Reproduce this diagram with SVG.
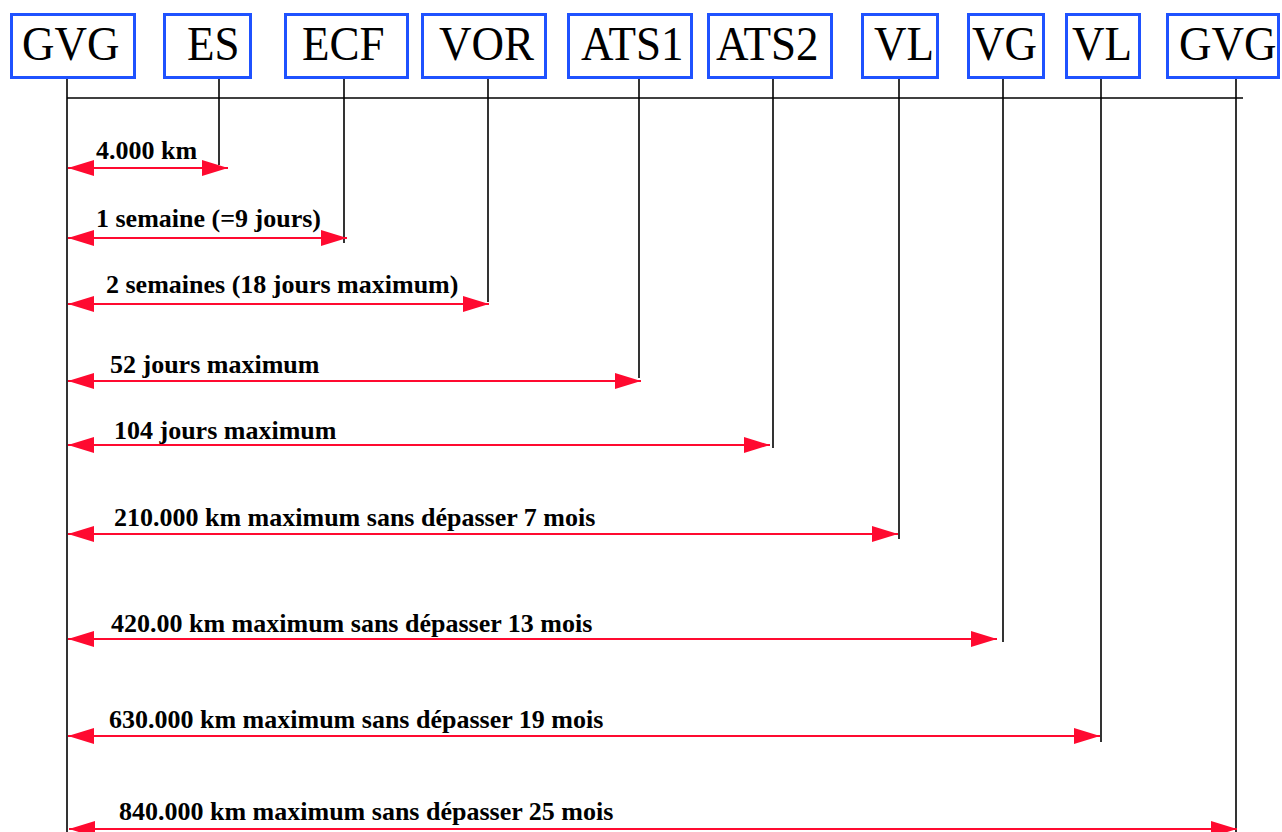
<svg xmlns="http://www.w3.org/2000/svg" width="1282" height="832" viewBox="0 0 1282 832">
<style>
.box{fill:#fff;stroke:#1f52ff;stroke-width:3}
.name{font-family:"Liberation Serif","Times New Roman",serif;font-size:45px;fill:#000}
.life{stroke:#000;stroke-width:1.6;fill:none}
.arr{stroke:#ff0a30;stroke-width:2;fill:none;marker-start:url(#ah);marker-end:url(#ah)}
.lbl{font-family:"Liberation Serif","Times New Roman",serif;font-size:26px;font-weight:bold;fill:#000}
</style>
<defs>
<marker id="ah" viewBox="0 0 26 16" refX="26" refY="8" markerWidth="26" markerHeight="16" markerUnits="userSpaceOnUse" orient="auto-start-reverse">
<path d="M0,0 L26,8 L0,16 z" fill="#ff0a30"/>
</marker>
</defs>
<rect width="1282" height="832" fill="#fff"/>
<g id="bus"><line class="life" x1="67" y1="98" x2="1243" y2="98"/></g>
<g id="n-gvg1"><line class="life" x1="67" y1="79" x2="67" y2="832"/><rect class="box" x="11.5" y="14.5" width="123" height="63"/><text class="name" transform="translate(22,60) scale(1,1.08)">GVG</text></g>
<g id="n-es"><line class="life" x1="219" y1="79" x2="219" y2="165"/><rect class="box" x="164.5" y="14.5" width="86" height="63"/><text class="name" transform="translate(187,60) scale(1,1.08)">ES</text></g>
<g id="n-ecf"><line class="life" x1="344" y1="79" x2="344" y2="243"/><rect class="box" x="285.5" y="14.5" width="122" height="63"/><text class="name" transform="translate(302,60) scale(1,1.08)">ECF</text></g>
<g id="n-vor"><line class="life" x1="488" y1="79" x2="488" y2="302"/><rect class="box" x="422.5" y="14.5" width="123" height="63"/><text class="name" transform="translate(439,60) scale(1,1.08)">VOR</text></g>
<g id="n-ats1"><line class="life" x1="639" y1="79" x2="639" y2="378"/><rect class="box" x="568.5" y="14.5" width="123" height="63"/><text class="name" transform="translate(581,60) scale(1,1.08)">ATS1</text></g>
<g id="n-ats2"><line class="life" x1="773" y1="79" x2="773" y2="448"/><rect class="box" x="708.5" y="14.5" width="123" height="63"/><text class="name" transform="translate(716,60) scale(1,1.08)">ATS2</text></g>
<g id="n-vl1"><line class="life" x1="899" y1="79" x2="899" y2="539"/><rect class="box" x="862.5" y="14.5" width="75" height="63"/><text class="name" transform="translate(874,60) scale(1,1.08)">VL</text></g>
<g id="n-vg"><line class="life" x1="1003" y1="79" x2="1003" y2="642"/><rect class="box" x="968.5" y="14.5" width="75" height="63"/><text class="name" transform="translate(972,60) scale(1,1.08)">VG</text></g>
<g id="n-vl2"><line class="life" x1="1101" y1="79" x2="1101" y2="742"/><rect class="box" x="1066.5" y="14.5" width="73" height="63"/><text class="name" transform="translate(1072,60) scale(1,1.08)">VL</text></g>
<g id="n-gvg2"><line class="life" x1="1236" y1="79" x2="1236" y2="832"/><rect class="box" x="1167.5" y="14.5" width="111" height="63"/><text class="name" transform="translate(1179,60) scale(1,1.08)">GVG</text></g>
<g id="connectors">
<line class="arr" x1="68" y1="168" x2="228" y2="168"/>
<line class="arr" x1="68" y1="238" x2="347" y2="238"/>
<line class="arr" x1="68" y1="304" x2="489" y2="304"/>
<line class="arr" x1="68" y1="381" x2="641" y2="381"/>
<line class="arr" x1="68" y1="445" x2="770" y2="445"/>
<line class="arr" x1="68" y1="534" x2="898" y2="534"/>
<line class="arr" x1="68" y1="639" x2="997" y2="639"/>
<line class="arr" x1="68" y1="736" x2="1100" y2="736"/>
<line class="arr" x1="69" y1="829" x2="1237" y2="829"/>
<text class="lbl" x="96" y="159">4.000 km</text>
<text class="lbl" x="96" y="227">1 semaine (=9 jours)</text>
<text class="lbl" x="106" y="293">2 semaines (18 jours maximum)</text>
<text class="lbl" x="110" y="373">52 jours maximum</text>
<text class="lbl" x="114" y="439">104 jours maximum</text>
<text class="lbl" x="114" y="526">210.000 km maximum sans dépasser 7 mois</text>
<text class="lbl" x="111" y="632">420.00 km maximum sans dépasser 13 mois</text>
<text class="lbl" x="109" y="728">630.000 km maximum sans dépasser 19 mois</text>
<text class="lbl" x="119" y="820">840.000 km maximum sans dépasser 25 mois</text>
</g>
</svg>
